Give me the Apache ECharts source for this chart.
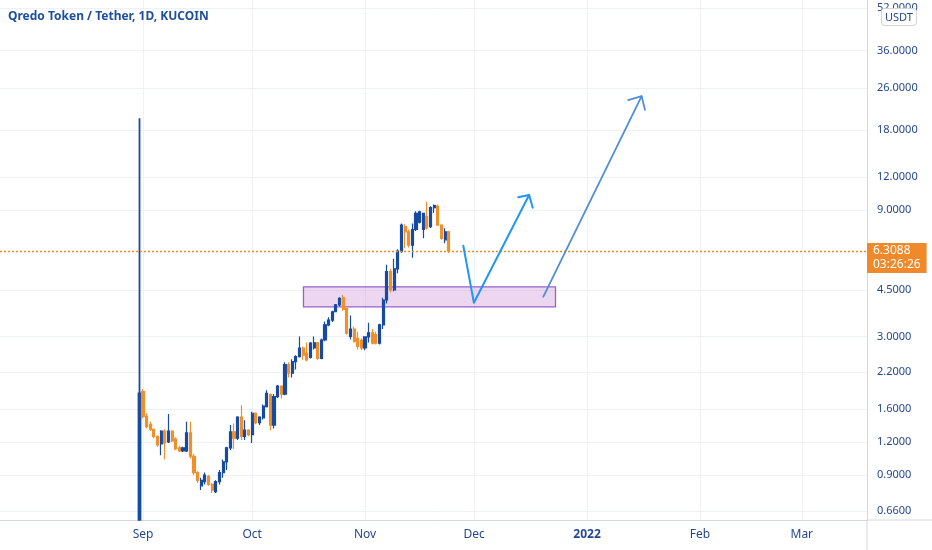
<!DOCTYPE html>
<html>
<head>
<meta charset="utf-8">
<title>Qredo Token / Tether, 1D, KUCOIN</title>
<script src="https://cdn.jsdelivr.net/npm/echarts@6.0.0/dist/echarts.min.js"></script>
<style>
html, body { margin: 0; padding: 0; background: #ffffff; }
#chart { width: 932px; height: 550px; }
</style>
</head>
<body>
<div id="chart"></div>
<script>
// daily candles, KUCOIN QRDO/USDT (first day opens below the visible range)
var dates = [
    '2021-08-31',
    '2021-09-01', '2021-09-02', '2021-09-03', '2021-09-04', '2021-09-05', '2021-09-06', '2021-09-07', '2021-09-08', '2021-09-09', '2021-09-10',
    '2021-09-11', '2021-09-12', '2021-09-13', '2021-09-14', '2021-09-15', '2021-09-16', '2021-09-17', '2021-09-18', '2021-09-19', '2021-09-20',
    '2021-09-21', '2021-09-22', '2021-09-23', '2021-09-24', '2021-09-25', '2021-09-26', '2021-09-27', '2021-09-28', '2021-09-29', '2021-09-30',
    '2021-10-01', '2021-10-02', '2021-10-03', '2021-10-04', '2021-10-05', '2021-10-06', '2021-10-07', '2021-10-08', '2021-10-09', '2021-10-10',
    '2021-10-11', '2021-10-12', '2021-10-13', '2021-10-14', '2021-10-15', '2021-10-16', '2021-10-17', '2021-10-18', '2021-10-19', '2021-10-20',
    '2021-10-21', '2021-10-22', '2021-10-23', '2021-10-24', '2021-10-25', '2021-10-26', '2021-10-27', '2021-10-28', '2021-10-29', '2021-10-30', '2021-10-31',
    '2021-11-01', '2021-11-02', '2021-11-03', '2021-11-04', '2021-11-05', '2021-11-06', '2021-11-07', '2021-11-08', '2021-11-09', '2021-11-10',
    '2021-11-11', '2021-11-12', '2021-11-13', '2021-11-14', '2021-11-15', '2021-11-16', '2021-11-17', '2021-11-18', '2021-11-19', '2021-11-20',
    '2021-11-21', '2021-11-22', '2021-11-23', '2021-11-24'
];
var opens = [
    0.61,
    1.86, 1.50, 1.40, 1.34, 1.26, 1.18, 1.32, 1.20, 1.32, 1.23,
    1.14, 1.11, 1.11, 1.30, 1.06, 0.92, 0.82, 0.85, 0.89, 0.83,
    0.78, 0.85, 0.92, 1.01, 1.14, 1.31, 1.24, 1.49, 1.26, 1.33,
    1.28, 1.54, 1.42, 1.48, 1.63, 1.81, 1.39, 1.78, 1.95, 1.82,
    2.35, 2.18, 2.41, 2.52, 2.71, 2.60, 2.50, 2.72, 2.84, 2.48,
    2.91, 3.32, 3.46, 3.72, 3.95, 4.20, 3.83, 3.00, 3.20, 2.95, 2.90,
    2.72, 2.99, 3.10, 3.05, 2.83, 3.32, 4.12, 5.27, 4.50, 5.40,
    6.30, 7.80, 7.45, 6.64, 7.60, 8.10, 7.60, 8.50, 7.80, 9.20,
    9.30, 7.90, 6.95, 7.45
];
var closes = [
    1.83,
    1.50, 1.37, 1.34, 1.26, 1.17, 1.32, 1.19, 1.32, 1.21, 1.13,
    1.11, 1.14, 1.30, 1.06, 0.92, 0.86, 0.86, 0.90, 0.83, 0.79,
    0.85, 0.92, 1.01, 1.14, 1.31, 1.24, 1.49, 1.26, 1.33, 1.28,
    1.54, 1.42, 1.49, 1.64, 1.83, 1.39, 1.78, 1.95, 1.82, 2.35,
    2.18, 2.41, 2.52, 2.71, 2.55, 2.45, 2.83, 2.84, 2.48, 2.91,
    3.32, 3.46, 3.72, 3.95, 4.18, 3.80, 3.09, 3.20, 2.87, 2.75, 2.72,
    2.99, 3.10, 2.83, 2.83, 3.32, 4.12, 5.27, 4.50, 5.40, 6.30,
    7.90, 7.45, 6.64, 7.60, 8.75, 8.87, 8.75, 7.70, 9.20, 9.35,
    7.90, 7.04, 7.45, 6.3088
];
var lows = [
    0.61,
    1.47, 1.35, 1.32, 1.24, 1.15, 1.07, 1.03, 1.19, 1.20, 1.12,
    1.10, 1.10, 1.10, 1.04, 0.90, 0.84, 0.79, 0.83, 0.82, 0.77,
    0.77, 0.83, 0.88, 0.94, 1.12, 1.13, 1.22, 1.22, 1.22, 1.26,
    1.19, 1.40, 1.39, 1.46, 1.62, 1.33, 1.35, 1.76, 1.75, 1.80,
    2.10, 2.10, 2.25, 2.50, 2.45, 2.42, 2.48, 2.68, 2.45, 2.46,
    2.88, 3.28, 3.40, 3.70, 3.90, 3.75, 3.05, 2.92, 2.85, 2.68, 2.66,
    2.66, 2.85, 2.80, 2.80, 2.80, 3.20, 4.00, 4.40, 4.45, 5.20,
    6.20, 6.46, 6.50, 5.95, 7.50, 8.00, 7.04, 7.60, 7.70, 8.80,
    7.85, 6.95, 6.74, 6.20
];
var highs = [
    20.0,
    1.90, 1.54, 1.43, 1.35, 1.27, 1.33, 1.34, 1.53, 1.33, 1.25,
    1.16, 1.15, 1.43, 1.43, 1.08, 0.93, 0.88, 0.92, 0.90, 0.84,
    0.86, 0.94, 1.03, 1.15, 1.39, 1.41, 1.50, 1.65, 1.45, 1.34,
    1.56, 1.55, 1.50, 1.66, 1.88, 1.83, 1.82, 1.97, 1.96, 2.40,
    2.40, 2.46, 2.55, 3.00, 2.75, 2.85, 2.86, 3.00, 2.86, 2.95,
    3.42, 3.55, 3.75, 3.98, 4.22, 4.30, 3.85, 3.60, 3.27, 3.13, 2.95,
    3.00, 3.38, 3.20, 3.13, 3.35, 4.20, 5.60, 5.40, 5.90, 6.40,
    8.00, 7.95, 7.60, 8.00, 8.90, 8.95, 8.80, 9.68, 9.30, 9.45,
    9.45, 7.95, 7.68, 7.50
];

var lastPrice = 6.3088;
var countdown = '03:26:26';

// axis ticks
var priceTicks = [0.66, 0.9, 1.2, 1.6, 2.2, 3, 4.5, 9, 12, 18, 26, 36, 52];
var monthTicks = ['2021-09-01', '2021-10-01', '2021-11-01', '2021-12-01', '2022-01-01', '2022-02-01', '2022-03-01'];
var monthNames = ['Jan', 'Feb', 'Mar', 'Apr', 'May', 'Jun', 'Jul', 'Aug', 'Sep', 'Oct', 'Nov', 'Dec'];

// drawings
var zoneStart = '2021-10-15 02:00', zoneEnd = '2021-12-23 08:00';
var zoneTop = 4.62, zoneBottom = 3.88;
var pathShort = [['2021-11-28 00:00', 6.6], ['2021-11-30 22:00', 4.02], ['2021-12-16 02:00', 10.26]];
var headShort = [['2021-12-13 02:00', 10.06], ['2021-12-16 02:00', 10.26], ['2021-12-17 02:00', 9.19]];
var pathLong = [['2021-12-20 00:00', 4.24], ['2022-01-16 00:00', 24.2]];
var headLong = [['2022-01-12 07:00', 23.4], ['2022-01-16 00:00', 24.2], ['2022-01-16 22:00', 21.5]];

var up = '#174ba1';
var down = '#f0902a';
var textBlue = '#24488f';
var gridColor = '#eef1f6';
var font = 'Noto Sans';

function toTime(s) {
    var p = s.split(/[- :]/);
    return new Date(+p[0], p[1] - 1, +p[2], +(p[3] || 0), +(p[4] || 0)).getTime();
}
function toPoints(list) {
    return list.map(function (d) { return [toTime(d[0]), d[1]]; });
}

var candles = [];
for (var i = 0; i < dates.length; i++) {
    candles.push([toTime(dates[i]), opens[i], closes[i], lows[i], highs[i]]);
}
// the listing-day spike has a heavier wick on the chart
candles[0] = { value: candles[0], itemStyle: { borderWidth: 1.8 } };

var chart = echarts.init(document.getElementById('chart'));

function drawingLine(name, data, color, width) {
    return {
        name: name,
        type: 'line',
        data: toPoints(data),
        symbol: 'none',
        silent: true,
        z: 6,
        lineStyle: { color: color, width: width, cap: 'round', join: 'round' }
    };
}

option = {
    backgroundColor: '#ffffff',
    animation: false,
    title: {
        text: 'Qredo Token / Tether, 1D, KUCOIN',
        left: 8,
        top: 11,
        padding: 0,
        textStyle: { color: '#1d4f9d', fontSize: 12, fontWeight: 'bold', fontFamily: font }
    },
    grid: {
        left: 0,
        right: 65,
        top: 0,
        bottom: 30
    },
    // timestamps on a plain value axis, labelled as months
    xAxis: {
        type: 'value',
        min: toTime('2021-07-23 17:00'),
        max: toTime('2022-03-18 22:00'),
        axisLine: { show: true, lineStyle: { color: '#d5d8df' } },
        axisTick: { show: false, customValues: monthTicks.map(toTime) },
        splitLine: { show: true, lineStyle: { color: gridColor } },
        axisLabel: {
            customValues: monthTicks.map(toTime),
            margin: 9,
            color: textBlue,
            fontSize: 12,
            fontFamily: font,
            formatter: function (v) {
                var d = new Date(v);
                if (d.getMonth() === 0) {
                    return '{y|' + d.getFullYear() + '}';
                }
                return monthNames[d.getMonth()];
            },
            rich: {
                y: { fontWeight: 'bold', color: textBlue, fontSize: 12, fontFamily: font }
            }
        }
    },
    yAxis: {
        type: 'log',
        position: 'right',
        logBase: 10,
        min: 0.6092,
        max: 55.83,
        axisLine: { show: true, lineStyle: { color: '#d5d8df' } },
        axisTick: { show: false, customValues: priceTicks },
        splitLine: { show: true, lineStyle: { color: gridColor } },
        axisLabel: {
            customValues: priceTicks,
            margin: 10,
            color: textBlue,
            fontSize: 11,
            fontFamily: font,
            formatter: function (v) {
                return Number(v).toFixed(4);
            }
        }
    },
    series: [
        {
            name: 'QRDOUSDT',
            type: 'candlestick',
            data: candles,
            encode: { x: 0, y: [1, 2, 3, 4] },
            barWidth: 2.6,
            itemStyle: {
                color: up,
                color0: down,
                borderColor: up,
                borderColor0: down,
                borderWidth: 1.2
            },
            markLine: {
                silent: true,
                symbol: 'none',
                data: [{ yAxis: lastPrice }],
                lineStyle: { color: '#f5891f', type: [2, 2], width: 1.4 },
                emphasis: { disabled: true },
                label: {
                    position: 'end',
                    distance: 0,
                    offset: [0, 7],
                    formatter: lastPrice.toFixed(4) + '\n' + countdown,
                    backgroundColor: '#f0892a',
                    color: '#ffffff',
                    fontSize: 12,
                    lineHeight: 14,
                    fontFamily: font,
                    padding: [1, 6, 1, 6]
                }
            },
            markArea: {
                silent: true,
                itemStyle: {
                    color: 'rgba(206, 147, 216, 0.38)',
                    borderColor: '#9a62c8',
                    borderWidth: 1.3
                },
                data: [[
                    { xAxis: toTime(zoneStart), yAxis: zoneTop },
                    { xAxis: toTime(zoneEnd), yAxis: zoneBottom }
                ]]
            }
        },
        drawingLine('path short', pathShort, '#2196f3', 2),
        drawingLine('head short', headShort, '#2196f3', 2),
        drawingLine('path long', pathLong, '#4f8fd6', 1.8),
        drawingLine('head long', headLong, '#4f8fd6', 1.8)
    ],
    graphic: [
        {
            type: 'line',
            shape: { x1: 867, y1: 520, x2: 932, y2: 520 },
            style: { stroke: '#d5d8df', lineWidth: 1 }
        },
        {
            type: 'line',
            shape: { x1: 867, y1: 520, x2: 867, y2: 550 },
            style: { stroke: '#d5d8df', lineWidth: 1 }
        },
        {
            type: 'text',
            x: 882,
            y: 9,
            z: 100,
            style: {
                text: 'USDT',
                fill: textBlue,
                font: '11px "Noto Sans"',
                backgroundColor: '#ffffff',
                borderColor: '#d1d4dc',
                borderWidth: 1,
                borderRadius: 3,
                padding: [3, 3, 2, 3]
            }
        }
    ]
};

option && chart.setOption(option);
</script>
</body>
</html>
